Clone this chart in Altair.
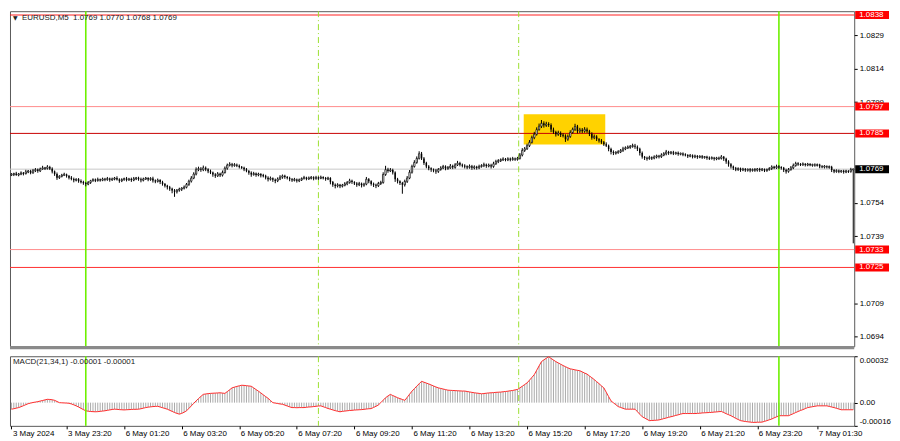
import altair as alt
import pandas as pd

# ---------------- data (prices in pips above 1.0700, MACD in 1e-5) ----------------
first_open = 66.4
close = [
    66.6, 67.0, 66.4, 66.8, 67.3, 67.0, 67.8, 68.1, 67.4, 68.3, 68.8, 68.2, 69.1, 69.6, 69.3, 70.0, 69.2, 68.0, 66.8, 65.2,
    65.8, 66.3, 66.6, 65.9, 65.2, 64.6, 64.0, 64.5, 63.6, 63.2, 62.8, 62.3, 63.0, 63.8, 64.3, 63.9, 64.4, 64.0, 64.6, 64.3,
    64.8, 64.2, 64.6, 65.0, 64.4, 63.8, 64.3, 64.8, 64.2, 64.6, 64.1, 64.7, 65.1, 64.5, 64.0, 64.6, 65.0, 64.4, 64.8, 63.9,
    63.5, 64.1, 63.2, 62.3, 61.6, 60.9, 60.2, 59.4, 58.9, 59.6, 60.1, 60.5, 60.9, 62.2, 63.6, 65.0, 66.8, 68.8, 69.2, 68.7,
    69.6, 68.9, 68.1, 67.5, 66.6, 66.0, 66.9, 66.3, 67.5, 69.4, 70.8, 71.2, 70.6, 71.0, 70.5, 70.0, 69.6, 68.9, 68.2, 67.4,
    66.6, 67.0, 66.4, 66.8, 66.2, 66.0, 65.2, 64.5, 64.9, 64.2, 63.8, 64.6, 65.4, 66.0, 65.5, 65.0, 64.5, 64.0, 64.4, 63.8,
    64.2, 64.8, 65.2, 64.7, 65.0, 65.3, 64.8, 65.2, 64.9, 65.4, 65.0, 64.6, 65.0, 63.2, 62.0, 61.5, 62.0, 61.4, 61.8, 62.4,
    63.0, 63.8, 63.2, 62.6, 62.0, 62.5, 61.8, 62.3, 64.5, 63.6, 62.4, 62.0, 61.6, 62.6, 63.0, 66.6, 68.8, 68.2, 68.6, 67.5,
    64.5, 63.6, 62.8, 62.0, 63.5, 65.0, 67.6, 70.2, 72.0, 73.8, 75.9, 73.8, 71.8, 70.2, 69.4, 68.8, 68.4, 68.0, 68.9, 69.5,
    70.2, 69.4, 69.6, 70.4, 69.8, 70.9, 71.7, 71.0, 70.5, 70.2, 69.8, 70.3, 69.6, 70.0, 69.6, 70.2, 70.6, 71.0, 70.4, 70.8,
    70.2, 71.4, 72.4, 72.8, 73.2, 73.5, 73.2, 73.6, 73.3, 73.7, 73.4, 73.8, 75.3, 77.4, 78.1, 79.5, 81.0, 83.1, 84.6, 86.7,
    88.2, 89.5, 88.6, 89.2, 88.8, 86.7, 85.6, 84.6, 85.2, 84.3, 84.0, 82.4, 83.6, 85.4, 86.8, 88.1, 86.0, 86.6, 86.0, 86.8,
    86.0, 84.8, 83.1, 83.6, 82.4, 81.8, 81.0, 80.2, 79.5, 78.0, 76.7, 76.2, 76.5, 76.7, 77.4, 78.1, 78.5, 78.8, 79.2, 79.5,
    79.0, 78.1, 76.2, 74.5, 74.0, 73.8, 74.2, 73.9, 74.5, 74.9, 74.6, 75.3, 75.9, 76.7, 76.2, 76.5, 76.0, 76.3, 75.8, 76.0,
    75.5, 75.3, 74.8, 75.1, 74.5, 74.9, 74.4, 74.7, 74.3, 74.5, 74.0, 73.8, 74.1, 73.6, 74.0, 73.8, 74.5, 73.6, 72.4, 71.2,
    70.2, 69.4, 68.8, 69.3, 68.6, 69.0, 68.5, 68.9, 68.4, 68.8, 68.5, 69.1, 68.6, 68.9, 68.4, 68.8, 69.3, 70.0, 69.6, 70.2,
    69.8, 69.6, 68.6, 68.0, 68.8, 69.6, 70.6, 71.5, 71.2, 71.0, 71.3, 70.9, 71.2, 70.8, 71.0, 70.7, 71.0, 70.2, 70.0, 70.3,
    69.9, 70.0, 68.6, 68.0, 68.3, 67.9, 68.2, 67.8, 68.1, 68.0, 68.8, 69.0,
]
wick_up = [
    0.6, 0.4, 0.8, 0.5, 0.7, 0.4, 0.9, 0.5, 0.6, 0.8, 0.7, 0.5, 0.6, 0.9, 0.4, 0.8, 0.5, 0.6, 0.4, 0.7,
    0.5, 0.6, 0.8, 0.4, 0.5, 0.7, 0.6, 0.4, 0.5, 0.8, 0.6, 0.5, 0.7, 0.4, 0.6, 0.5, 0.8, 0.4, 0.6, 0.5,
    0.7, 0.4, 0.6, 0.5, 0.8, 0.5, 0.6, 0.4, 0.7, 0.5, 0.6, 0.8, 0.4, 0.5, 0.7, 0.6, 0.5, 0.4, 0.6, 0.8,
    0.5, 0.7, 0.4, 0.6, 0.5, 0.4, 0.6, 0.5, 0.7, 0.5, 0.6, 0.4, 0.8, 0.6, 0.7, 0.9, 0.8, 1.0, 0.9, 0.7,
    1.0, 0.6, 0.5, 0.7, 0.4, 0.6, 0.8, 0.5, 0.9, 0.8, 0.7, 0.9, 0.6, 0.7, 0.5, 0.6, 0.4, 0.5, 0.6, 0.4,
    0.6, 0.8, 0.5, 0.6, 0.4, 0.7, 0.5, 0.6, 0.8, 0.4, 0.6, 0.7, 0.9, 0.6, 0.5, 0.4, 0.6, 0.5, 0.7, 0.4,
    0.6, 0.5, 0.8, 0.4, 0.7, 0.6, 0.5, 0.8, 0.6, 0.7, 0.4, 0.5, 0.6, 0.4, 0.5, 0.6, 0.7, 0.4, 0.6, 0.8,
    0.7, 0.9, 0.5, 0.4, 0.6, 0.8, 0.5, 0.6, 1.0, 0.5, 0.4, 0.6, 0.5, 0.7, 0.8, 1.0, 1.7, 0.8, 0.9, 0.6,
    0.5, 0.6, 0.4, 0.5, 0.8, 0.9, 1.0, 0.8, 1.0, 0.9, 1.1, 0.8, 0.6, 0.5, 0.6, 0.4, 0.5, 0.7, 0.6, 0.8,
    0.7, 0.5, 0.8, 0.9, 0.6, 0.8, 1.0, 0.6, 0.5, 0.7, 0.5, 0.8, 0.6, 0.7, 0.5, 0.8, 0.6, 0.9, 0.5, 0.7,
    0.6, 0.9, 0.8, 0.7, 0.6, 0.8, 0.5, 0.7, 0.6, 0.8, 0.5, 0.7, 0.9, 1.0, 0.8, 0.9, 1.0, 0.9, 1.1, 1.0,
    1.2, 1.5, 0.9, 1.0, 0.8, 0.7, 0.9, 0.6, 1.0, 0.7, 0.8, 0.6, 0.9, 1.0, 0.8, 1.2, 0.7, 0.9, 0.8, 1.0,
    0.8, 0.6, 0.7, 0.9, 0.6, 0.5, 0.7, 0.6, 0.8, 0.5, 0.6, 0.7, 0.5, 0.8, 0.6, 0.9, 0.7, 0.8, 0.6, 0.9,
    0.8, 0.6, 0.5, 0.7, 0.4, 0.6, 0.8, 0.5, 0.7, 0.6, 0.5, 0.8, 0.7, 0.9, 0.5, 0.6, 0.7, 0.5, 0.6, 0.4,
    0.5, 0.6, 0.4, 0.7, 0.5, 0.6, 0.4, 0.5, 0.6, 0.4, 0.5, 0.7, 0.6, 0.4, 0.5, 0.6, 0.8, 0.4, 0.5, 0.6,
    0.5, 0.4, 0.6, 0.5, 0.4, 0.6, 0.5, 0.4, 0.6, 0.5, 0.7, 0.4, 0.5, 0.6, 0.4, 0.5, 0.6, 0.7, 0.5, 0.8,
    0.6, 0.5, 0.4, 0.6, 0.7, 0.8, 0.9, 0.8, 0.6, 0.5, 0.7, 0.4, 0.6, 0.5, 0.4, 0.6, 0.5, 0.4, 0.6, 0.5,
    0.4, 0.6, 0.5, 0.4, 0.6, 0.5, 0.4, 0.5, 0.6, 0.4, 0.8, 0.1,
]
wick_dn = [
    0.5, 0.7, 0.4, 0.6, 0.5, 0.8, 0.4, 0.6, 0.7, 0.5, 0.6, 0.8, 0.5, 0.4, 0.7, 0.5, 0.6, 0.9, 0.8, 1.0,
    0.6, 0.5, 0.4, 0.7, 0.8, 0.6, 0.9, 0.5, 0.7, 0.6, 0.8, 1.0, 0.5, 0.6, 0.4, 0.7, 0.5, 0.6, 0.4, 0.7,
    0.5, 0.8, 0.4, 0.6, 0.5, 0.9, 0.6, 0.5, 0.7, 0.4, 0.8, 0.5, 0.6, 0.7, 0.9, 0.5, 0.4, 0.8, 0.6, 0.9,
    0.8, 0.5, 0.9, 0.7, 0.8, 1.0, 0.9, 1.2, 2.3, 0.8, 0.7, 0.9, 0.6, 0.5, 0.7, 0.6, 0.5, 0.6, 0.7, 0.9,
    0.6, 0.8, 0.9, 0.7, 1.0, 0.9, 0.5, 0.8, 0.6, 0.5, 0.7, 0.6, 0.8, 0.5, 0.6, 0.7, 0.5, 0.8, 0.6, 0.9,
    1.0, 0.5, 0.8, 0.6, 0.9, 0.7, 0.8, 1.0, 0.6, 0.9, 1.1, 0.6, 0.5, 0.7, 0.8, 0.6, 0.9, 0.7, 0.5, 0.8,
    0.6, 0.5, 0.4, 0.7, 0.5, 0.6, 0.8, 0.5, 0.7, 0.4, 0.6, 0.8, 0.5, 1.0, 0.9, 1.1, 0.7, 0.9, 0.6, 0.5,
    0.6, 0.5, 0.8, 0.7, 0.9, 0.6, 1.0, 0.7, 0.5, 0.9, 0.8, 1.0, 1.1, 0.6, 0.7, 0.5, 0.6, 0.8, 0.5, 0.9,
    1.2, 1.0, 0.9, 4.0, 0.8, 0.7, 0.5, 0.6, 0.5, 0.6, 0.5, 0.7, 0.9, 0.8, 0.9, 1.0, 0.8, 1.1, 0.7, 0.6,
    0.5, 0.9, 0.7, 0.5, 0.8, 0.6, 0.5, 0.8, 0.7, 0.9, 0.8, 0.6, 0.9, 0.7, 0.8, 0.6, 0.5, 0.7, 0.8, 0.6,
    0.9, 0.6, 0.5, 0.7, 0.6, 0.5, 0.7, 0.6, 0.8, 0.5, 0.7, 0.6, 0.5, 0.6, 0.7, 0.5, 0.6, 0.5, 0.7, 0.6,
    0.5, 0.8, 1.0, 0.7, 0.9, 1.1, 0.8, 1.0, 0.7, 0.9, 0.8, 1.2, 0.7, 0.6, 0.5, 0.7, 1.0, 0.8, 0.9, 0.7,
    0.8, 1.0, 0.9, 0.7, 0.8, 0.9, 0.7, 0.8, 0.6, 1.0, 1.1, 0.9, 0.7, 0.6, 0.5, 0.7, 0.6, 0.5, 0.7, 0.6,
    0.9, 1.0, 1.1, 0.8, 0.9, 1.0, 0.6, 0.8, 0.5, 0.7, 0.8, 0.6, 0.5, 0.7, 0.8, 0.6, 0.7, 0.5, 0.8, 0.6,
    0.7, 0.6, 0.8, 0.5, 0.7, 0.6, 0.8, 0.5, 0.7, 0.6, 0.8, 0.7, 0.5, 0.8, 0.6, 0.7, 0.5, 0.9, 1.0, 1.1,
    0.9, 0.8, 0.7, 0.6, 0.8, 0.5, 0.7, 0.6, 0.8, 0.5, 0.7, 0.6, 0.8, 0.5, 0.7, 0.6, 0.5, 0.7, 0.6, 0.5,
    0.7, 0.8, 0.9, 1.0, 0.6, 0.5, 0.6, 0.5, 0.7, 0.6, 0.5, 0.7, 0.6, 0.5, 0.7, 0.6, 0.5, 0.8, 0.6, 0.7,
    0.6, 0.7, 0.9, 0.8, 0.6, 0.7, 0.5, 0.8, 0.6, 0.7, 0.6, 33.0,
]
macd = [
    -4.5, -4.2, -3.8, -3.4, -2.8, -2.1, -1.4, -0.7, -0.3, 0.1, 0.4, 0.7, 1.1, 1.5, 1.9, 2.3, 2.2, 2.0, 1.6, 0.8,
    0.0, -0.1, -0.2, -0.3, -0.4, -0.9, -1.5, -2.2, -3.0, -3.9, -4.8, -5.6, -5.9, -6.1, -6.2, -6.3, -6.2, -6.0, -5.8, -5.6,
    -5.3, -5.0, -4.7, -4.5, -4.6, -4.8, -4.9, -5.0, -4.9, -4.8, -4.7, -4.6, -4.6, -4.5, -4.2, -3.8, -3.4, -3.1, -2.9, -2.7,
    -2.6, -2.5, -3.0, -3.5, -4.0, -4.5, -5.3, -6.0, -6.8, -7.4, -7.9, -7.4, -6.6, -5.6, -4.0, -2.2, -0.5, 1.2, 2.8, 4.3,
    5.7, 6.0, 6.2, 6.4, 6.5, 6.6, 6.7, 6.8, 6.6, 6.4, 7.6, 8.9, 10.2, 10.7, 11.2, 11.6, 12.0, 11.9, 11.7, 11.5,
    11.3, 10.2, 9.0, 7.9, 6.7, 5.4, 4.2, 3.0, 1.5, 0.0, -0.3, -0.6, -0.9, -1.1, -1.7, -2.3, -2.9, -3.4, -3.4, -3.5,
    -3.4, -3.4, -3.4, -3.2, -3.0, -2.9, -2.7, -2.5, -2.3, -2.2, -2.8, -3.4, -4.0, -4.5, -5.0, -5.5, -5.9, -6.3, -6.0, -5.8,
    -5.6, -5.4, -5.3, -5.1, -5.0, -4.9, -4.8, -4.6, -4.4, -4.2, -4.1, -3.3, -2.5, -1.6, 0.0, 1.7, 3.4, 4.6, 5.7, 4.9,
    4.2, 3.4, 2.8, 2.2, 1.6, 3.6, 5.8, 7.9, 9.6, 11.4, 13.0, 14.7, 14.1, 13.5, 12.9, 12.2, 11.5, 10.8, 10.2, 9.8,
    9.4, 9.0, 8.6, 8.5, 8.4, 8.3, 8.2, 8.1, 8.0, 8.0, 7.7, 7.4, 7.1, 6.8, 6.6, 6.4, 6.1, 6.3, 6.5, 6.7,
    6.8, 6.9, 7.1, 7.2, 7.3, 7.5, 7.7, 7.9, 8.2, 8.4, 8.8, 9.1, 10.2, 11.3, 12.5, 13.6, 15.5, 17.4, 19.3, 22.3,
    25.3, 28.3, 29.5, 30.6, 31.7, 30.5, 29.4, 28.3, 27.4, 26.5, 25.6, 24.8, 24.0, 23.3, 23.0, 22.6, 22.3, 22.0, 21.2, 20.4,
    19.7, 18.4, 17.2, 15.9, 14.5, 13.1, 11.6, 10.2, 7.2, 4.2, 1.2, -0.1, -1.4, -2.7, -3.3, -3.9, -4.5, -4.5, -4.5, -4.5,
    -4.5, -6.2, -8.0, -9.7, -10.6, -11.5, -12.4, -12.3, -12.2, -12.1, -11.9, -11.5, -11.0, -10.6, -10.1, -9.7, -9.3, -8.8, -8.4, -7.9,
    -7.5, -7.5, -7.5, -7.5, -7.5, -7.5, -7.4, -7.3, -7.1, -7.0, -6.9, -6.8, -6.7, -6.5, -6.4, -6.2, -6.1, -6.8, -7.6, -8.3,
    -9.0, -9.9, -10.8, -11.6, -12.4, -12.7, -13.0, -13.2, -13.4, -13.6, -13.6, -13.5, -13.5, -13.4, -12.9, -12.4, -11.8, -11.3, -10.5, -9.8,
    -9.0, -9.0, -9.0, -9.0, -9.0, -8.3, -7.6, -6.8, -6.1, -5.4, -4.8, -4.1, -3.4, -3.1, -2.8, -2.5, -2.2, -2.2, -2.2, -2.2,
    -2.2, -2.6, -3.0, -3.4, -3.9, -4.4, -4.9, -4.9, -4.9, -4.9, -4.9, -4.9,
]

levels = [1.0838, 1.0797, 1.0785, 1.0733, 1.0725]
bid = 1.0769
vsolid = [31, 320]
vdash = [128, 211.5]
zone_i = [213.6, 247.6]
zone_p = [1.0780, 1.07936]
price_ticks = [1.0694, 1.0709, 1.0739, 1.0754, 1.0799, 1.0814, 1.0829]
macd_ticks = [0.00032, 0.0, -0.00016]
tick_idx = [0, 23, 47, 71, 95, 119, 143, 167, 191, 215, 239, 263, 287, 311, 336]
tick_lbl = ["3 May 2024", "3 May 23:20", "6 May 01:20", "6 May 03:20", "6 May 05:20",
            "6 May 07:20", "6 May 09:20", "6 May 11:20", "6 May 13:20", "6 May 15:20",
            "6 May 17:20", "6 May 19:20", "6 May 21:20", "6 May 23:20", "7 May 01:30"]
header = "EURUSD,M5\u00a0 1.0769 1.0770 1.0768 1.0769"
macd_title = "MACD(21,34,1) -0.00001 -0.00001"

assert len(close) == len(wick_up) == len(wick_dn) == len(macd), (len(close), len(wick_up), len(wick_dn), len(macd))

# ---------------- build tables ----------------
BASE, PIP = 1.07, 0.0001
opens = [first_open] + close[:-1]
rows = []
for i, (o, c) in enumerate(zip(opens, close)):
    top, bot = max(o, c), min(o, c)
    if top - bot < 0.5:
        mid = (top + bot) / 2
        top, bot = mid + 0.25, mid - 0.25
    rows.append(dict(i=i, xl=i - 0.3, xr=i + 0.3, bull=c >= o,
                     h=BASE + (max(o, c) + wick_up[i]) * PIP,
                     l=BASE + (min(o, c) - wick_dn[i]) * PIP,
                     bt=BASE + top * PIP, bb=BASE + bot * PIP))
candles = pd.DataFrame(rows)
bulls = candles[candles["bull"]]
bears = candles[~candles["bull"]]
mdf = pd.DataFrame({"i": list(range(len(macd))), "m": [v * 1e-5 for v in macd], "z": 0.0})

line_colors = ["#ff1f1f", "#ff8c8c", "#c80000", "#ff8c8c", "#ff2f2f"]
lv = pd.DataFrame({"p": levels, "col": line_colors})
lv["lo"] = lv["p"] - 0.00018
lv["hi"] = lv["p"] + 0.00018
lv["txt"] = [f"{p:.4f}" for p in levels]
bidf = pd.DataFrame({"p": [bid], "txt": [f"{bid:.4f}"]})
bidf["lo"] = bidf["p"] - 0.00018
bidf["hi"] = bidf["p"] + 0.00018
zone = pd.DataFrame({"x1": [zone_i[0]], "x2": [zone_i[1]], "y1": [zone_p[0]], "y2": [zone_p[1]]})
vs = pd.DataFrame({"v": vsolid})
vd = pd.DataFrame({"v": vdash})
one = pd.DataFrame({"k": [0]})

# ---------------- geometry / styles ----------------
W, H1, H2 = 849, 337, 70
FONT = "Liberation Sans"
xs = alt.Scale(domain=[-0.6, 351.4], nice=False, zero=False)
ys = alt.Scale(domain=[1.06897, 1.08397], nice=False, zero=False)
ms = alt.Scale(domain=[-0.00016, 0.00032], nice=False, zero=False)

yax = alt.Axis(orient="right", values=price_ticks, format=".4f", title=None, grid=False,
               domain=False, tickSize=3, tickColor="black", labelPadding=2, labelFlush=False,
               labelOverlap=False, labelFontSize=8, labelColor="black", labelFont=FONT)
max_ = alt.Axis(orient="right", values=macd_ticks, title=None, grid=False, domain=False,
                tickSize=3, tickColor="black", labelPadding=2, labelFlush=True,
                labelOverlap=False, labelFontSize=8, labelColor="black", labelFont=FONT,
                labelExpr="datum.value > 0.0001 ? '0.00032' : (datum.value < -0.0001 ? '-0.00016' : '0.00')")
lbl_js = "[" + ",".join(f"'{s}'" for s in tick_lbl) + "]"
idx_js = "[" + ",".join(str(v) for v in tick_idx) + "]"
xax = alt.Axis(values=tick_idx, labelExpr=f"{lbl_js}[indexof({idx_js}, datum.value)]",
               labelAlign="left", labelFlush=False, labelOverlap=False, labelBound=False,
               tickSize=3, tickColor="black", domain=False, grid=False, title=None,
               labelPadding=1, labelFontSize=8, labelColor="black", labelFont=FONT, labelOffset=1)


def X(f):
    return alt.X(f, type="quantitative", scale=xs, axis=None)


def Y(f):
    return alt.Y(f, type="quantitative", scale=ys, axis=yax)


def XM(f):
    return alt.X(f, type="quantitative", scale=xs, axis=xax)


def YM(f):
    return alt.Y(f, type="quantitative", scale=ms, axis=max_)


GREEN = "#6ef000"
DGREEN = "#9be030"

# ---------------- main price panel ----------------
zone_l = alt.Chart(zone).mark_rect(color="#ffd200").encode(x=X("x1"), x2="x2", y=Y("y1"), y2="y2")
bid_l = alt.Chart(bidf).mark_rule(color="#c8c8c8", strokeWidth=1).encode(y=Y("p"))
lev_l = alt.Chart(lv).mark_rule(strokeWidth=1).encode(y=Y("p"), color=alt.Color("col:N", scale=None))
vs_l = alt.Chart(vs).mark_rule(color=GREEN, strokeWidth=1.6).encode(x=X("v"))
vd_l = alt.Chart(vd).mark_rule(color=DGREEN, strokeWidth=1, strokeDash=[6, 3, 1, 3]).encode(x=X("v"))
wick_l = alt.Chart(candles).mark_rule(color="black", strokeWidth=1).encode(x=X("i"), y=Y("l"), y2="h")
bear_l = alt.Chart(bears).mark_rect(color="black").encode(x=X("xl"), x2="xr", y=Y("bb"), y2="bt")
bull_l = alt.Chart(bulls).mark_rect(fill="white", stroke="black", strokeWidth=0.7).encode(
    x=X("xl"), x2="xr", y=Y("bb"), y2="bt")
box_l = alt.Chart(lv).mark_rect().encode(
    x=alt.value(W + 1), x2=alt.value(W + 35), y=Y("lo"), y2="hi",
    color=alt.value("#ff0000"))
boxt_l = alt.Chart(lv).mark_text(align="left", baseline="middle", color="white", fontSize=8, font=FONT).encode(
    x=alt.value(W + 5), y=Y("p"), text="txt:N")
bbox_l = alt.Chart(bidf).mark_rect(color="black").encode(
    x=alt.value(W + 1), x2=alt.value(W + 35), y=Y("lo"), y2="hi")
bboxt_l = alt.Chart(bidf).mark_text(align="left", baseline="middle", color="white", fontSize=8, font=FONT).encode(
    x=alt.value(W + 5), y=Y("p"), text="txt:N")
tri_l = alt.Chart(one).mark_text(align="left", baseline="middle", color="#202020", fontSize=6, font="DejaVu Sans").encode(
    x=alt.value(3), y=alt.value(7), text=alt.value("\u25bc"))
head_l = alt.Chart(one).mark_text(align="left", baseline="middle", color="#202020", fontSize=8, font=FONT).encode(
    x=alt.value(12), y=alt.value(7), text=alt.value(header))
sep_l = alt.Chart(one).mark_rule(color="#8a8a8a", strokeWidth=3).encode(
    x=alt.value(0), x2=alt.value(W), y=alt.value(H1 + 1.5))

main = alt.layer(zone_l, bid_l, lev_l, vs_l, vd_l, wick_l, bear_l, bull_l,
                 box_l, boxt_l, bbox_l, bboxt_l, tri_l, head_l, sep_l).properties(width=W, height=H1)

# ---------------- MACD panel ----------------
hist_l = alt.Chart(mdf).mark_rule(color="#a9a9a9", strokeWidth=1).encode(x=XM("i"), y=YM("z"), y2="m")
sig_l = alt.Chart(mdf).mark_line(color="#ff2a2a", strokeWidth=1).encode(x=XM("i"), y=YM("m"))
vs_m = alt.Chart(vs).mark_rule(color=GREEN, strokeWidth=1.6).encode(x=XM("v"))
vd_m = alt.Chart(vd).mark_rule(color=DGREEN, strokeWidth=1, strokeDash=[6, 3, 1, 3]).encode(x=XM("v"))
mt_l = alt.Chart(one).mark_text(align="left", baseline="middle", color="#202020", fontSize=8, font=FONT).encode(
    x=alt.value(3), y=alt.value(6), text=alt.value(macd_title))

macd_panel = alt.layer(hist_l, sig_l, vs_m, vd_m, mt_l).properties(width=W, height=H2)

chart = (
    alt.vconcat(main, macd_panel, spacing=3)
    .properties(padding=0, background="white")
    .configure(font=FONT)
    .configure_view(stroke="#5a5a5a", strokeWidth=1)
)

chart.save("out.html", embed_options={"renderer": "svg", "actions": False})
